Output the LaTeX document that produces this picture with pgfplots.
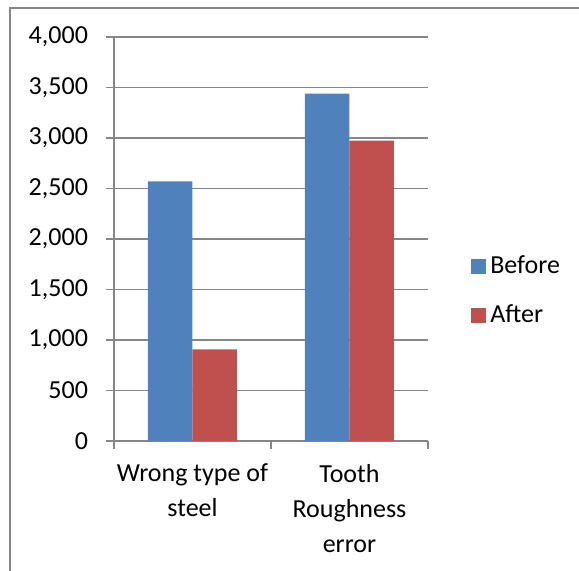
\documentclass[border=0pt]{standalone}
\usepackage{fontspec}
\setmainfont{Carlito}
\usepackage{pgfplots}
\pgfplotsset{compat=1.18}

\definecolor{barblue}{RGB}{79,129,189}
\definecolor{barred}{RGB}{192,80,77}
\definecolor{linegray}{RGB}{134,134,134}

\begin{document}
\begin{tikzpicture}
\useasboundingbox (0,0) rectangle (289.5pt,285.5pt);
% chart frame
\draw[linegray, line width=0.7pt] (5pt,0) -- (5pt,281.5pt) -- (289.5pt,281.5pt);
\begin{axis}[
  at={(57pt,65pt)}, anchor=south west,
  scale only axis, width=157pt, height=202pt,
  font=\fontsize{13}{17.5}\selectfont,
  ybar=0pt, bar width=22.25pt,
  xmin=-0.5, xmax=1.5, ymin=0, ymax=4000,
  axis x line=bottom, axis y line=left,
  axis line style={-, draw=linegray, line width=0.7pt},
  ymajorgrids, grid style={draw=linegray, line width=0.7pt},
  tick align=outside,
  major tick length=4pt, minor tick length=4pt,
  ytick={0,500,...,4000},
  ytick style={draw=linegray, line width=0.7pt},
  /pgf/number format/1000 sep={,},
  /pgf/number format/assume math mode=true,
  yticklabel style={xshift=-5.5pt},
  xtick={0,1},
  xticklabels={{Wrong type of\\steel},{Tooth\\Roughness\\error}},
  xticklabel style={align=center, yshift=-4pt},
  xtick style={draw=none},
  minor xtick={-0.5,0.5,1.5},
  minor x tick style={draw=linegray, line width=0.7pt},
  legend style={draw=none, fill=none, at={(1.115,0.372)}, anchor=west,
    row sep=11pt, nodes={inner ysep=1.5pt, inner xsep=2.4pt}},
  legend cell align=left,
  legend image code/.code={\fill[#1] (0pt,-3.75pt) rectangle (7.5pt,3.75pt);},
]
\addplot[fill=barblue, draw=none] coordinates {(0,2570) (1,3440)};
\addlegendentry{Before}
\addplot[fill=barred, draw=none] coordinates {(0,907) (1,2974)};
\addlegendentry{After}
\end{axis}
\end{tikzpicture}
\end{document}
